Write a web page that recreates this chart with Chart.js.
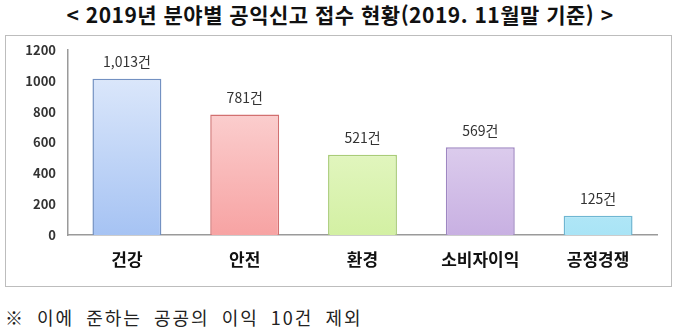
<!DOCTYPE html>
<html lang="ko">
<head>
<meta charset="UTF-8">
<title>2019년 분야별 공익신고 접수 현황</title>
<script src="https://cdn.jsdelivr.net/npm/chart.js@4"></script>
<style>
html, body { margin: 0; padding: 0; background: #fff; }
body { width: 680px; height: 330px; position: relative; overflow: hidden; font-family: "Noto Sans CJK KR", sans-serif; }
#title { position: absolute; left: 0; width: 680px; top: -1px; text-align: center; font-size: 21px; font-weight: bold; color: #111; letter-spacing: 0.5px; }
#box { position: absolute; left: 5px; top: 35px; width: 665px; height: 250px; border: 1px solid #bdbdbd; }
#note { position: absolute; left: 5px; top: 304px; font-size: 18px; color: #222; letter-spacing: 2px; word-spacing: 5px; }
</style>
</head>
<body>
<div id="title">&lt; 2019년 분야별 공익신고 접수 현황(2019. 11월말 기준) &gt;</div>
<div id="box"><canvas id="myChart" width="665" height="250"></canvas></div>
<div id="note">※ 이에 준하는 공공의 이익 10건 제외</div>

<script>
// data
var categories = ['건강', '안전', '환경', '소비자이익', '공정경쟁'];
var counts = [1013, 781, 521, 569, 125];
var valueLabels = ['1,013건', '781건', '521건', '569건', '125건'];
var yTicks = [0, 200, 400, 600, 800, 1000, 1200];

// bar colours: top, bottom, border
var barTop = ['#e4edfc', '#fde4e4', '#f3fce0', '#f1eaf8', '#e6f8fd'];
var barBottom = ['#a6c3f3', '#f7a3a3', '#d3f0a3', '#c8b0e2', '#a9e4f6'];
var barBorder = ['#7391c2', '#d27070', '#a9cc78', '#9e86c2', '#6fb6d2'];

function barGradient(ctx) {
  var chart = ctx.chart;
  var area = chart.chartArea;
  if (!area) return barBottom[ctx.dataIndex];
  var g = chart.ctx.createLinearGradient(0, area.top, 0, area.bottom);
  g.addColorStop(0, barTop[ctx.dataIndex]);
  g.addColorStop(1, barBottom[ctx.dataIndex]);
  return g;
}

// draws "n건" above each bar
var valueLabelPlugin = {
  id: 'valueLabels',
  afterDatasetsDraw: function(chart) {
    var c = chart.ctx;
    var meta = chart.getDatasetMeta(0);
    c.save();
    c.font = '14px "Noto Sans CJK KR"';
    c.fillStyle = '#333';
    c.textAlign = 'center';
    c.textBaseline = 'middle';
    meta.data.forEach(function(bar, i) {
      c.fillText(valueLabels[i], bar.x, bar.y - 17);
    });
    c.restore();
  }
};

var ctx = document.getElementById('myChart').getContext('2d');
var chart = new Chart(ctx, {
  type: 'bar',
  data: {
    labels: categories,
    datasets: [{
      data: counts,
      backgroundColor: barGradient,
      borderColor: barBorder,
      borderWidth: 1.5,
      barPercentage: 0.585,
      categoryPercentage: 1
    }]
  },
  options: {
    responsive: false,
    animation: false,
    events: [],
    layout: { padding: { top: 14, right: 14, left: 0, bottom: 0 } },
    plugins: { legend: { display: false }, tooltip: { enabled: false } },
    scales: {
      y: {
        min: 0,
        max: 1200,
        afterBuildTicks: function(s) { s.ticks = yTicks.map(function(v) { return { value: v }; }); },
        afterFit: function(s) { s.width = 62; s.paddingTop = 0; s.paddingBottom = 0; },
        grid: { display: false, drawTicks: false },
        border: { display: true, color: '#9a9a9a', width: 1.5 },
        ticks: {
          padding: 12, color: '#333',
          font: { family: 'Noto Sans CJK KR', size: 13, weight: 'bold' },
          callback: function(v) { return String(v); }
        }
      },
      x: {
        afterFit: function(s) { s.height = 51; },
        grid: { display: false, drawTicks: false },
        border: { display: true, color: '#9a9a9a', width: 1.5 },
        ticks: { padding: 14, color: '#111', font: { family: 'Noto Sans CJK KR', size: 17, weight: 'bold' } }
      }
    }
  },
  plugins: [valueLabelPlugin]
});
</script>
</body>
</html>
